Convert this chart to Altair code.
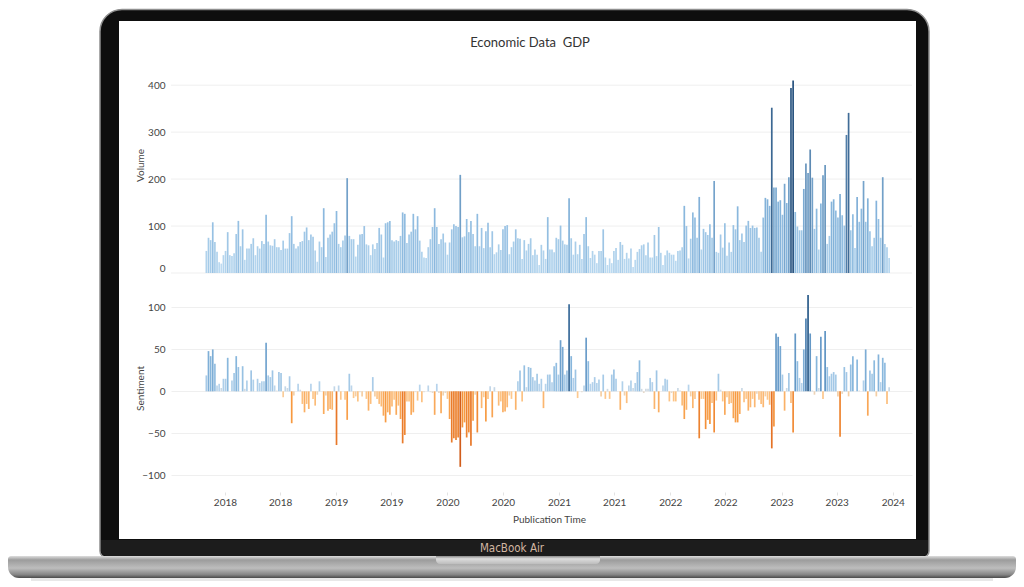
import altair as alt
import pandas as pd

# ---------------- data ----------------
TITLE = "Economic Data\u00a0 GDP"
FIRST_WEEK = "2017-11-01"

volume = [
    47, 75, 70, 108, 66, 45, 23, 20, 38, 47,
    87, 38, 36, 42, 83, 111, 57, 93, 28, 52,
    52, 62, 74, 38, 57, 52, 68, 62, 124, 67,
    59, 58, 72, 55, 55, 49, 69, 52, 52, 85,
    121, 62, 52, 57, 66, 68, 88, 97, 70, 82,
    77, 48, 24, 67, 55, 138, 34, 75, 82, 88,
    106, 132, 62, 55, 69, 80, 202, 79, 72, 72,
    35, 60, 82, 83, 100, 61, 59, 38, 61, 51,
    64, 96, 82, 33, 106, 108, 111, 70, 67, 70,
    68, 79, 129, 126, 64, 82, 88, 126, 93, 121,
    69, 45, 33, 32, 55, 72, 98,
    138, 98, 62, 72, 84, 65, 39, 65, 93, 104,
    100, 98, 209, 76, 78, 115, 87, 111, 83, 57,
    126, 57, 96, 53, 89, 107, 55, 89, 40, 44,
    61, 49, 93, 100, 102, 40, 55, 67, 93, 74,
    73, 30, 70, 48, 62, 74, 38, 50, 39, 17,
    60, 48, 30, 119, 50, 50, 44, 75, 72, 101,
    69, 61, 60, 159, 74, 39, 67, 40, 60, 30,
    83, 119, 57, 32, 47, 39, 21, 47, 47, 93,
    33, 17, 31, 21, 47, 53, 28, 66, 60, 30,
    43, 31, 52, 13, 28, 45, 51, 59, 61, 38,
    65, 33, 33, 81, 36, 98, 43, 17, 38, 48,
    43, 39, 39, 26, 47, 48, 55, 143, 100, 31,
    73, 129, 118, 75, 162, 50, 94, 87, 81, 104,
    75, 196, 45, 43, 82, 54, 106, 37, 65, 45,
    102, 93, 142, 70, 84, 66, 101, 111, 96, 101,
    96, 97, 75, 45, 118, 160, 157, 143, 352, 182,
    182, 152, 155, 124, 190, 149, 204, 394, 410, 130,
    99, 91, 91, 179, 233, 213, 263, 203, 94, 137,
    50, 148, 208, 230, 62, 79, 152, 157, 133, 118,
    168, 123, 101, 294, 341, 91, 125, 53, 162, 109,
    137, 196, 109, 159, 89, 57, 75, 154, 115, 75,
    204, 62, 55, 32,
]

sentiment = [
    19, 48, 42, 50, 33, 7, 9, 4, 15, 15,
    40, 0, 13, 22, 42, 29, 0, 30, 3, 13,
    0, 25, 14, 0, 15, 10, 12, 12, 58, 19,
    17, 25, 7, 1, 23, 22, -7, 6, 4, 18,
    -38, -5, 0, 9, 2, -15, -25, -15, -21, 9,
    -9, -17, -4, 12, 0, -27, -5, -23, -21, -22,
    6, -64, 7, -10, 0, -10, -34, 21, 7, -8,
    -6, -12, -1, -6, 0, -9, -23, -15, 17, -6,
    -9, -15, -18, -29, -37, -25, -28, -18, -10, -28,
    -17, -33, -62, -52, -12, -12, -28, -25, -1, -11,
    8, -13, -1, 0, 7, -1, -2,
    -28, 9, -2, -26, -5, -2, -9, -33, -61, -56,
    -58, -55, -90, -43, -37, -55, -49, -65, -35, -4,
    -49, 0, -20, -7, -36, -9, 6, -31, 5, 0,
    -17, -12, -25, -24, -19, -5, -9, 0, -22, 12,
    25, -12, 31, 5, 29, 28, 17, 13, 21, 9,
    15, -20, 9, 20, 20, 11, 30, 34, 20, 61,
    53, 20, 25, 104, 42, 16, 26, -8, 0, -1,
    7, 64, 36, 9, 11, 17, 10, 14, -6, 20,
    -9, 3, -9, 20, 26, 15, 0, -22, 12, -5,
    -14, 7, 13, 4, 10, 23, 37, 3, -2, 3,
    3, 16, 11, -21, 25, -25, 0, 7, 15, 14,
    -12, -2, -12, -12, 4, 1, -17, -33, -22, 8,
    -6, -20, -9, 0, -56, -9, -9, -45, -34, -39,
    -14, -49, -11, 21, 2, -12, -28, -7, -15, -14,
    -32, -37, -37, -27, 4, -13, -9, -23, -19, -9,
    -19, -3, -10, -15, -19, -6, -10, -16, -68, -42,
    69, 65, 54, 20, -23, 4, 22, -14, -49, 69,
    36, 16, 10, 50, 87, 115, 69, 1, -4, 42,
    4, 65, -9, 72, 29, 18, 21, 23, 20, -6,
    -54, -3, 29, 23, -6, 32, 42, 0, 38, 1,
    0, 13, 50, -29, 25, 21, 37, -6, 44, 11,
    40, 34, -15, 5,
]

# x-axis ticks (year, month), labelled with the year only
tick_dates = [(2018, 1), (2018, 7), (2019, 1), (2019, 7), (2020, 1), (2020, 7),
              (2021, 1), (2021, 7), (2022, 1), (2022, 7), (2023, 1), (2023, 7),
              (2024, 1)]
volume_ticks = [0, 100, 200, 300, 400]
sentiment_ticks = [-100, -50, 0, 50, 100]

dates = pd.date_range(FIRST_WEEK, periods=len(volume), freq="7D")
df = pd.DataFrame({"Publication Time": dates, "Volume": volume, "Sentiment": sentiment})
vgrid = pd.DataFrame({"Volume": volume_ticks})

# ---------------- layout / style ----------------
FONT = "Lato"
TXT = "#444444"
W = 741
H1 = 216
H2 = 208

x_scale = alt.Scale(domain=[alt.DateTime(year=2017, month=7, date=8),
                            alt.DateTime(year=2024, month=3, date=4)],
                    padding=0, nice=False)
tick_values = [alt.DateTime(year=y, month=m, date=1) for y, m in tick_dates]
one = pd.DataFrame({"k": [0]})


def box(x0, x1, y0, y1, **kw):
    return alt.Chart(one).mark_rect(**kw).encode(
        x=alt.value(x0), x2=alt.value(x1), y=alt.value(y0), y2=alt.value(y1))


# laptop frame (decoration, drawn behind the top panel, in pixels of that panel)
lid = box(-71, 758, -47.5, 500, color="#0e0e0e", stroke="#8f8f8f", strokeWidth=1.5,
          cornerRadiusTopLeft=22, cornerRadiusTopRight=22,
          cornerRadiusBottomLeft=6, cornerRadiusBottomRight=6)
screen = box(-52, 745, -36, 482, color="#ffffff")
chin = box(-70, 757, 483, 499, color="#1c1c1c",
           cornerRadiusBottomLeft=6, cornerRadiusBottomRight=6)
base_grad = alt.LinearGradient(
    gradient="linear", x1=0, x2=0, y1=0, y2=1,
    stops=[alt.GradientStop(color="#dedede", offset=0),
           alt.GradientStop(color="#9c9c9c", offset=0.18),
           alt.GradientStop(color="#bdbdbd", offset=0.55),
           alt.GradientStop(color="#858585", offset=0.85),
           alt.GradientStop(color="#4a4a4a", offset=1)])
base = box(-163, 845, 499, 521, color=base_grad,
           cornerRadiusTopLeft=3, cornerRadiusTopRight=3,
           cornerRadiusBottomLeft=11, cornerRadiusBottomRight=11)
notch_grad = alt.LinearGradient(
    gradient="linear", x1=0, x2=0, y1=0, y2=1,
    stops=[alt.GradientStop(color="#8a8a8a", offset=0),
           alt.GradientStop(color="#dcdcdc", offset=0.35),
           alt.GradientStop(color="#bdbdbd", offset=1)])
notch = box(265, 429, 499, 507, color=notch_grad,
            cornerRadiusBottomLeft=5, cornerRadiusBottomRight=5)
shadow = box(-140, 822, 521, 524, color="#dedede", opacity=0.7)
brand = alt.Chart(one).mark_text(
    text="MacBook Air", font="DejaVu Sans Condensed, Roboto, sans-serif", fontSize=11.5,
    color="#d2b6a2", align="center", baseline="middle"
).encode(x=alt.value(341), y=alt.value(492))
title = alt.Chart(one).mark_text(
    text=TITLE, font=FONT, fontSize=13, color="#333333",
    align="center", baseline="middle"
).encode(x=alt.value(359), y=alt.value(-14))

# ---------------- top panel: Volume ----------------
vol_y = alt.Scale(domain=[0, 460], nice=False)
vol_axis = alt.Axis(values=volume_ticks, grid=False, domain=False, ticks=False,
                    labelFlush=True, labelPadding=6, labelFont=FONT, labelFontSize=10,
                    labelColor=TXT, title="Volume", titleFont=FONT, titleFontSize=10,
                    titleFontWeight="normal", titleColor=TXT, titleX=-31, titleY=H1 / 2,
                    titleBaseline="middle", zindex=1)

vol_grid = alt.Chart(vgrid).mark_rule(color="#efefef", strokeWidth=1).encode(
    y=alt.Y("Volume:Q", scale=vol_y, axis=vol_axis),
    x=alt.value(0), x2=alt.value(W))

vol_bars = alt.Chart(df).mark_bar(width=1.7).encode(
    x=alt.X("Publication Time:T", scale=x_scale, axis=None),
    y=alt.Y("Volume:Q", scale=vol_y, axis=vol_axis),
    color=alt.Color("Volume:Q", legend=None,
                    scale=alt.Scale(domain=[0, 150, 410],
                                    range=["#c4e0f4", "#86b5dc", "#27527e"],
                                    interpolate="rgb")))

top = alt.layer(lid, screen, chin, base, notch, shadow, brand, title, vol_grid, vol_bars
                ).properties(width=W, height=H1)

# ---------------- bottom panel: Sentiment ----------------
sent_bars = alt.Chart(df).mark_bar(width=1.7).encode(
    x=alt.X("Publication Time:T", scale=x_scale,
            axis=alt.Axis(values=tick_values, format="%Y", grid=False, domain=False,
                          ticks=True, tickSize=3, tickColor="#e3e3e3", labelPadding=2,
                          labelFont=FONT, labelFontSize=10, labelColor=TXT,
                          title="Publication Time", titleFont=FONT, titleFontSize=10,
                          titleFontWeight="normal", titleColor=TXT,
                          titleX=378, titleY=27, titleBaseline="middle")),
    y=alt.Y("Sentiment:Q", scale=alt.Scale(domain=[-120, 128], nice=False),
            axis=alt.Axis(values=sentiment_ticks, grid=True, gridColor="#efefef",
                          domain=False, ticks=False, labelPadding=6, labelFont=FONT,
                          labelFontSize=10, labelColor=TXT, title="Sentiment",
                          titleFont=FONT, titleFontSize=10, titleFontWeight="normal",
                          titleColor=TXT, titleX=-31, titleY=H2 / 2,
                          titleBaseline="middle")),
    color=alt.Color("Sentiment:Q", legend=None,
                    scale=alt.Scale(domain=[-115, -77, -38, -8, 0, 8, 38, 77, 115],
                                    range=["#b34716", "#e0681e", "#f7993f", "#fdc98f",
                                           "#dddddd", "#b7d4ec", "#8cbadf", "#5a8fc0",
                                           "#2b5c8a"],
                                    interpolate="rgb")))

bottom = sent_bars.properties(width=W, height=H2)

chart = alt.vconcat(top, bottom, spacing=11, bounds="flush").properties(
    padding=0,
).resolve_scale(color="independent").configure_view(strokeWidth=0)

chart.save("out.html", embed_options={"renderer": "svg", "actions": False})
